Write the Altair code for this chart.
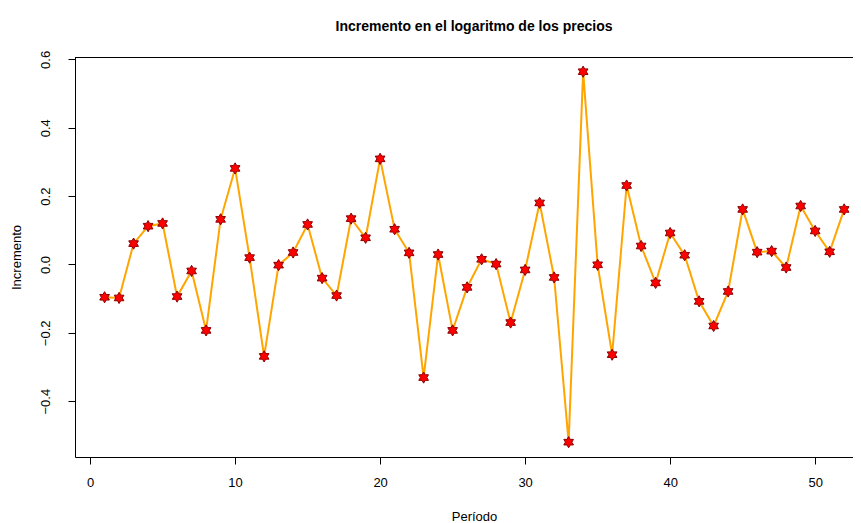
import altair as alt
import pandas as pd

periodo = list(range(1, 53))
incremento = [
    -0.096, -0.098, 0.061, 0.112, 0.120, -0.094, -0.019, -0.193, 0.132, 0.281,
    0.020, -0.269, -0.002, 0.035, 0.117, -0.040, -0.091, 0.134, 0.078, 0.309,
    0.103, 0.034, -0.331, 0.029, -0.193, -0.067, 0.015, 0.001, -0.170, -0.016,
    0.180, -0.038, -0.520, 0.564, -0.001, -0.264, 0.231, 0.054, -0.054, 0.092,
    0.027, -0.108, -0.180, -0.079, 0.161, 0.036, 0.039, -0.009, 0.171, 0.098,
    0.037, 0.161,
]
x_ticks = [0, 10, 20, 30, 40, 50]
y_ticks = [-0.4, -0.2, 0.0, 0.2, 0.4, 0.6]

df = pd.DataFrame({"Periodo": periodo, "Incremento": incremento})

FONT = "Liberation Sans"
W, H = 778, 400
star = ("M0,-1L0.289,-0.5L0.866,-0.5L0.577,0L0.866,0.5L0.289,0.5L0,1"
        "L-0.289,0.5L-0.866,0.5L-0.577,0L-0.866,-0.5L-0.289,-0.5Z")

x_enc = alt.X(
    "Periodo:Q",
    scale=alt.Scale(domain=[-1.04, 52.61], nice=False, zero=False),
    axis=alt.Axis(
        values=x_ticks, format="d", title="Período", grid=False,
        domain=True, domainColor="black", domainWidth=1,
        tickSize=7, tickColor="black", labelPadding=12, labelFontSize=13,
        labelFont=FONT, labelColor="black", titleFont=FONT, titleFontSize=13,
        titleFontWeight="normal", titleColor="black", titleX=399, titleY=59,
        titleAlign="center", titleBaseline="middle", labelFlush=False,
    ),
)
y_enc = alt.Y(
    "Incremento:Q",
    scale=alt.Scale(domain=[-0.5634, 0.607], nice=False, zero=False),
    axis=alt.Axis(
        values=y_ticks, format=".1f", title="Incremento", grid=False,
        domain=True, domainColor="black", domainWidth=1,
        tickSize=7, tickColor="black", labelAngle=-90, labelAlign="center",
        labelBaseline="bottom", labelPadding=16, labelFontSize=13, labelFont=FONT,
        labelColor="black", titleFont=FONT, titleFontSize=13,
        titleFontWeight="normal", titleColor="black", titleAngle=-90,
        titleX=-59, titleY=200, titleAlign="center", titleBaseline="middle",
        labelFlush=False, labelExpr="replace(datum.label, '-', '\u2212')",
    ),
)

line = alt.Chart(df).mark_line(color="#FFA500", strokeWidth=2).encode(x=x_enc, y=y_enc)
points = alt.Chart(df).mark_point(
    shape=star, filled=True, fill="#FF0000", stroke="#8B0000",
    strokeWidth=1, size=125, opacity=1,
).encode(x="Periodo:Q", y="Incremento:Q")
top_edge = alt.Chart(df).mark_rule(color="black", strokeWidth=1).encode(
    x=alt.value(0), x2=alt.value(W), y=alt.value(0.5)
)

chart = (
    alt.layer(top_edge, line, points)
    .properties(
        width=W,
        height=H,
        autosize=alt.AutoSizeParams(type="none"),
        padding={"left": 67, "top": 49, "right": 0, "bottom": 66},
        title=alt.TitleParams(
            "Incremento en el logaritmo de los precios",
            font=FONT, fontSize=14, fontWeight="bold", color="black",
            anchor="middle", dx=10, offset=16,
        ),
    )
    .configure_view(stroke=None)
    .configure(background="white")
)

chart.save("out.html", embed_options={"renderer": "svg", "actions": False})
